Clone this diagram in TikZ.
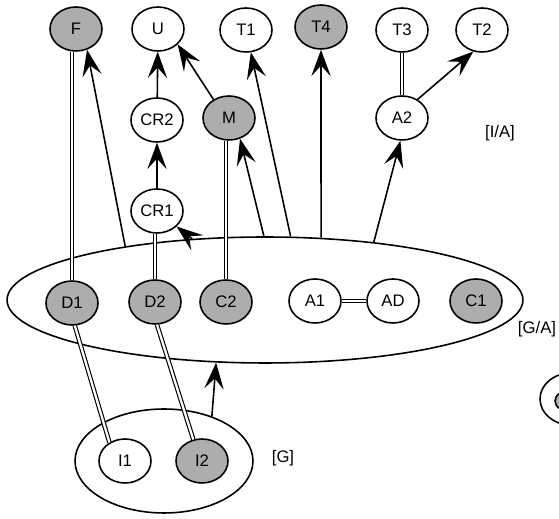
\documentclass[tikz,border=0pt]{standalone}
\usepackage{fontspec}
\setmainfont{Liberation Sans}
\usetikzlibrary{shapes.geometric,arrows.meta}
\begin{document}
\begin{tikzpicture}[x=0.02cm,y=-0.02cm,
  nd/.style={ellipse,draw,line width=0.9pt,minimum width=1.04cm,minimum height=0.88cm,inner sep=0pt,font=\fontsize{9.5}{11}\selectfont},
  sh/.style={nd,fill=black!32},
  grp/.style={ellipse,draw,line width=0.9pt,inner sep=0pt},
  arr/.style={line width=0.9pt,-{Stealth[length=15pt,width=11pt,inset=6pt]}},
  dbl/.style={double,line width=0.65pt,double distance=1.3pt},
  lbl/.style={font=\fontsize{9.5}{11}\selectfont}]
\useasboundingbox (0,0) rectangle (559,519);
\clip (0,0) rectangle (559,519);
% top row
\node[sh] (F) at (76,29) {F};
\node[nd] (U) at (158,29) {U};
\node[nd] (T1) at (246,30) {T1};
\node[sh] (T4) at (321,27) {T4};
\node[nd] (T3) at (402,30) {T3};
\node[nd] (T2) at (482,30) {T2};
% second row
\node[nd] (CR2) at (157,120) {CR2};
\node[sh] (M) at (229,118) {M};
\node[nd] (A2) at (402,118) {A2};
\node[nd] (CR1) at (157,211) {CR1};
% group G/A
\node[grp,minimum width=10.32cm,minimum height=2.52cm] (GA) at (265,300) {};
\node[sh] (D1) at (72,303) {D1};
\node[sh] (D2) at (155,302) {D2};
\node[sh] (C2) at (226,302) {C2};
\node[nd] (A1) at (315,301) {A1};
\node[nd] (AD) at (393,301) {AD};
\node[sh] (C1) at (476,301) {C1};
% group G
\node[grp,minimum width=3.56cm,minimum height=2.08cm] (G) at (164,461) {};
\node[nd] (I1) at (125,461) {I1};
\node[sh] (I2) at (202,461) {I2};
% partial group at right edge
\node[grp,minimum width=1.24cm,minimum height=1.04cm] (X) at (571,399) {};
\node[grp,fill=black!32,minimum width=0.64cm,minimum height=0.44cm] (X1) at (571,401) {};
% labels
\node[lbl] (lIA) at (500,133) {[I/A]};
\node[lbl] (lGA) at (537,329) {[G/A]};
\node[lbl] (lG) at (283,458) {[G]};
% double links
\draw[dbl] (D1.north) -- (D1.north |- F.south);
\draw[dbl] (C2.north) -- (C2.north |- M.south);
\draw[dbl] (D2.north) -- (D2.north |- CR1.south);
\draw[dbl] (A2) -- (T3);
\draw[dbl] (A1) -- (AD);
\draw[dbl] (D1.-83) -- (I1.130);
\draw[dbl] (D2.-85) -- (I2.112);
% arrows
\draw[arr] (GA.159.7) -- (F.-62);
\draw[arr] (CR2) -- (U);
\draw[arr] (CR1) -- (CR2);
\draw[arr] (M.130) -- (U.-38);
\draw[arr] (GA.91.8) -- (M.-62);
\draw[arr] (GA.68.3) -- (T1);
\draw[arr] (GA.48.2) -- (T4);
\draw[arr] (GA.28.7) -- (A2.-94);
\draw[arr] (A2.50) -- (T2.-112);
\draw[arr] (GA.140) -- (CR1);
\draw[arr] (G.43) -- (GA.-128);
\end{tikzpicture}
\end{document}
